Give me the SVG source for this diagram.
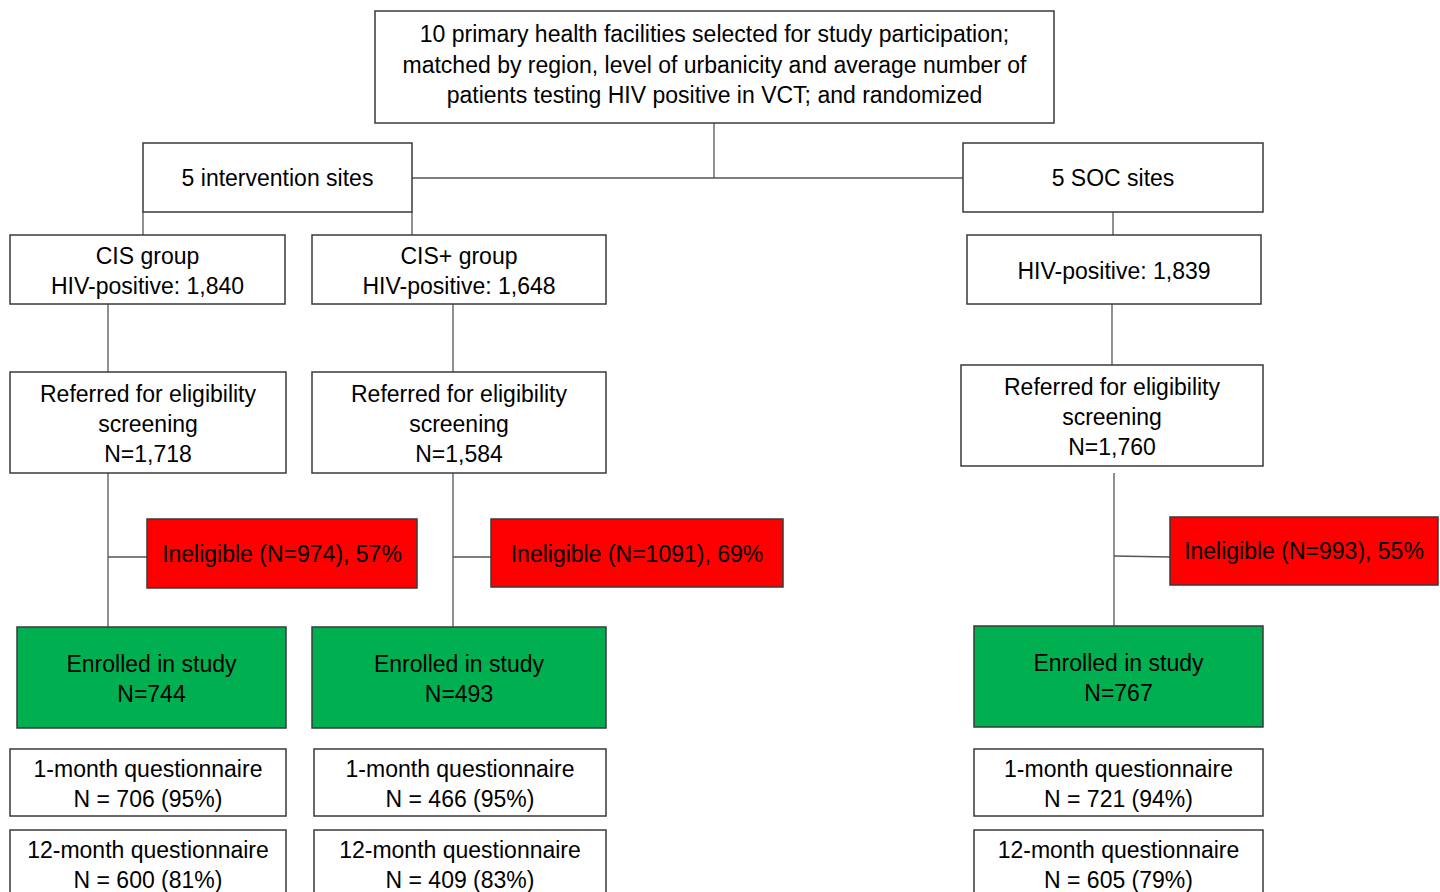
<svg xmlns="http://www.w3.org/2000/svg" width="1440" height="892" viewBox="0 0 1440 892">
<style>
rect{stroke:#3a3a3a;stroke-width:1.5}
.w{fill:#fff}
.r{fill:#ff0000}
.g{fill:#00b050}
text{font-family:"Liberation Sans",Arial,sans-serif;font-size:23px;fill:#000;text-anchor:middle;dominant-baseline:central}
#connectors line{stroke:#555;stroke-width:1.3}
</style>
<rect width="1440" height="892" fill="#fff" style="stroke:none"/>
<g id="connectors">
<line x1="714" y1="123" x2="714" y2="178"/>
<line x1="412" y1="178" x2="963" y2="178"/>
<line x1="143" y1="212" x2="143" y2="235"/>
<line x1="412" y1="212" x2="412" y2="235"/>
<line x1="1113" y1="212" x2="1113" y2="235"/>
<line x1="108" y1="304" x2="108" y2="372"/>
<line x1="453" y1="304" x2="453" y2="372"/>
<line x1="1112" y1="304" x2="1112" y2="365"/>
<line x1="108" y1="473" x2="108" y2="627"/>
<line x1="108" y1="557" x2="147" y2="557"/>
<line x1="453" y1="473" x2="453" y2="627"/>
<line x1="453" y1="557" x2="491" y2="557"/>
<line x1="1114" y1="473" x2="1114" y2="626"/>
<line x1="1114" y1="556" x2="1170" y2="557"/>
</g>
<g id="top"><rect class="w" x="375" y="11" width="679" height="112"/>
<text x="714.5" y="34">10 primary health facilities selected for study participation;</text>
<text x="714.5" y="65">matched by region, level of urbanicity and average number of</text>
<text x="714.5" y="95">patients testing HIV positive in VCT; and randomized</text></g>
<g id="intervention"><rect class="w" x="143" y="143" width="269" height="69"/><text x="277.5" y="178">5 intervention sites</text></g>
<g id="soc"><rect class="w" x="963" y="143" width="300" height="69"/><text x="1113" y="178">5 SOC sites</text></g>
<g id="cis"><rect class="w" x="10" y="235" width="275" height="69"/><text x="147.5" y="256">CIS group</text><text x="147.5" y="286">HIV-positive: 1,840</text></g>
<g id="cisplus"><rect class="w" x="312" y="235" width="294" height="69"/><text x="459" y="256">CIS+ group</text><text x="459" y="286">HIV-positive: 1,648</text></g>
<g id="sochiv"><rect class="w" x="967" y="235" width="294" height="69"/><text x="1114" y="271">HIV-positive: 1,839</text></g>
<g id="ref-cis"><rect class="w" x="10" y="372" width="276" height="101"/><text x="148" y="394">Referred for eligibility</text><text x="148" y="424">screening</text><text x="148" y="454">N=1,718</text></g>
<g id="ref-cisplus"><rect class="w" x="312" y="372" width="294" height="101"/><text x="459" y="394">Referred for eligibility</text><text x="459" y="424">screening</text><text x="459" y="454">N=1,584</text></g>
<g id="ref-soc"><rect class="w" x="961" y="365" width="302" height="101"/><text x="1112" y="387">Referred for eligibility</text><text x="1112" y="417">screening</text><text x="1112" y="447">N=1,760</text></g>
<g id="inel-cis"><rect class="r" x="147" y="519" width="270" height="69"/><text x="282" y="554">Ineligible (N=974), 57%</text></g>
<g id="inel-cisplus"><rect class="r" x="491" y="519" width="292" height="68"/><text x="637" y="554">Ineligible (N=1091), 69%</text></g>
<g id="inel-soc"><rect class="r" x="1170" y="517" width="268" height="68"/><text x="1304" y="551">Ineligible (N=993), 55%</text></g>
<g id="enr-cis"><rect class="g" x="17" y="627" width="269" height="101"/><text x="151.5" y="664">Enrolled in study</text><text x="151.5" y="694">N=744</text></g>
<g id="enr-cisplus"><rect class="g" x="312" y="627" width="294" height="101"/><text x="459" y="664">Enrolled in study</text><text x="459" y="694">N=493</text></g>
<g id="enr-soc"><rect class="g" x="974" y="626" width="289" height="101"/><text x="1118.5" y="663">Enrolled in study</text><text x="1118.5" y="693">N=767</text></g>
<g id="m1-cis"><rect class="w" x="10" y="749" width="276" height="67"/><text x="148" y="769">1-month questionnaire</text><text x="148" y="799">N = 706 (95%)</text></g>
<g id="m1-cisplus"><rect class="w" x="314" y="749" width="292" height="67"/><text x="460" y="769">1-month questionnaire</text><text x="460" y="799">N = 466 (95%)</text></g>
<g id="m1-soc"><rect class="w" x="974" y="749" width="289" height="67"/><text x="1118.5" y="769">1-month questionnaire</text><text x="1118.5" y="799">N = 721 (94%)</text></g>
<g id="m12-cis"><rect class="w" x="10" y="830" width="276" height="80"/><text x="148" y="850">12-month questionnaire</text><text x="148" y="880">N = 600 (81%)</text></g>
<g id="m12-cisplus"><rect class="w" x="314" y="830" width="292" height="80"/><text x="460" y="850">12-month questionnaire</text><text x="460" y="880">N = 409 (83%)</text></g>
<g id="m12-soc"><rect class="w" x="974" y="830" width="289" height="80"/><text x="1118.5" y="850">12-month questionnaire</text><text x="1118.5" y="880">N = 605 (79%)</text></g>
</svg>
